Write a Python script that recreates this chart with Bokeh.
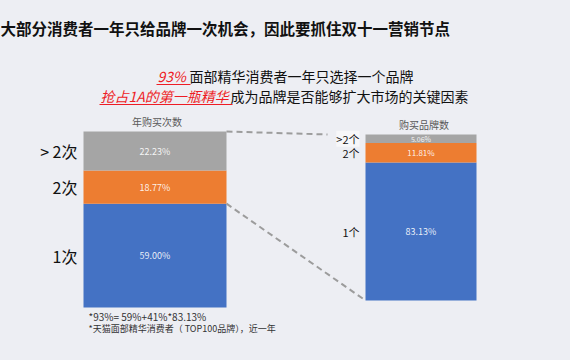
from bokeh.plotting import figure
from bokeh.models import Range1d, Label, GlobalInlineStyleSheet, ColumnDataSource
from bokeh.core.properties import value
from bokeh.embed import file_html
from bokeh.resources import INLINE

# ---------------- data ----------------
left_title = "年购买次数"
left_cats = ["1次", "2次", "> 2次"]
left_vals = [59.00, 18.77, 22.23]

right_title = "购买品牌数"
right_cats = ["1个", "2个", ">2个"]
right_vals = [83.13, 11.81, 5.06]

seg_colors = ["#4472c4", "#ed7d31", "#a5a5a5"]

title_text = "大部分消费者一年只给品牌一次机会，因此要抓住双十一营销节点"
sub1_red = "93%"
sub1_black = "面部精华消费者一年只选择一个品牌"
sub2_red = "抢占1A的第一瓶精华"
sub2_black = "成为品牌是否能够扩大市场的关键因素"
note1 = "*93%= 59%+41%*83.13%"
note2 = "*天猫面部精华消费者（ TOP100品牌），近一年"

# ---------------- layout (pixels of the page) ----------------
W, H = 570, 360
BG = "#edeef3"
FONT = "Noto Sans CJK SC"

L_X0, L_X1, L_BASE, L_TOP = 83, 226, 307, 131
R_X0, R_X1, R_BASE, R_TOP = 365, 476, 300, 134


def make_range(base, top):
    ppu = (base - top) / 100.0
    return Range1d(start=(base - H) / ppu, end=base / ppu)


def to_px(v, base, top):
    return base - v * (base - top) / 100.0


p = figure(width=W, height=H, output_backend="svg", toolbar_location=None,
           x_range=Range1d(0, W), y_range=Range1d(H, 0),
           x_axis_location=None, y_axis_location=None,
           min_border=0, outline_line_color=None,
           background_fill_color=BG, border_fill_color=BG)
p.xgrid.visible = False
p.ygrid.visible = False
p.stylesheets = [GlobalInlineStyleSheet(
    css="html,body{margin:0;padding:0;overflow:hidden;background:%s;}" % BG)]

p.extra_y_ranges = {"left": make_range(L_BASE, L_TOP),
                    "right": make_range(R_BASE, R_TOP)}


def stack(vals):
    bottoms, tops, acc = [], [], 0.0
    for v in vals:
        bottoms.append(acc)
        acc += v
        tops.append(acc)
    return bottoms, tops


# ---------- left bar ----------
lb, lt = stack(left_vals)
lsrc = ColumnDataSource(dict(
    x=[(L_X0 + L_X1) / 2] * 3, bottom=lb, top=lt, color=seg_colors,
    mid=[(a + b) / 2 for a, b in zip(lb, lt)],
    lab=["%.2f%%" % v for v in left_vals], cat=left_cats))
p.vbar(x="x", bottom="bottom", top="top", width=L_X1 - L_X0, color="color",
       source=lsrc, y_range_name="left", line_color=None)
p.text(x="x", y="mid", text="lab", source=lsrc, y_range_name="left",
       text_color="white", text_font_size="9px", text_font=value(FONT),
       text_align="center", text_baseline="middle", text_alpha=0.9)
p.text(x=77, y="mid", text="cat", source=lsrc, y_range_name="left",
       text_color="#111111", text_font_size="16px", text_font=value(FONT),
       text_align="right", text_baseline="middle")

# ---------- right bar ----------
rb, rt = stack(right_vals)
rsrc = ColumnDataSource(dict(
    x=[(R_X0 + R_X1) / 2] * 3, bottom=rb, top=rt, color=seg_colors,
    mid=[(a + b) / 2 for a, b in zip(rb, rt)],
    lab=["%.2f%%" % v for v in right_vals], cat=right_cats,
    fs=["9px", "8px", "7px"]))
p.vbar(x="x", bottom="bottom", top="top", width=R_X1 - R_X0, color="color",
       source=rsrc, y_range_name="right", line_color=None)
p.text(x="x", y="mid", text="lab", source=rsrc, y_range_name="right",
       text_color="white", text_font_size="fs", text_font=value(FONT),
       text_align="center", text_baseline="middle", text_alpha=0.9)

# right category labels (top one has a light box)
for i, (cat, m) in enumerate(zip(right_cats, rsrc.data["mid"])):
    p.add_layout(Label(x=359, y=m, y_range_name="right", text=cat,
                       text_font=FONT, text_font_size="11px",
                       text_color="#111111", text_align="right",
                       text_baseline="middle",
                       background_fill_color="#f7f7f9" if i == 2 else None,
                       background_fill_alpha=0.9))

# ---------- connector dashed lines ----------
y1a = to_px(lt[-1], L_BASE, L_TOP)
y1b = to_px(rt[-1], R_BASE, R_TOP)
y2a = to_px(lt[0], L_BASE, L_TOP)
y2b = to_px(rb[0], R_BASE, R_TOP)
p.segment(x0=[L_X1, L_X1], y0=[y1a, y2a], x1=[327, R_X0], y1=[y1b, y2b],
          line_color="#9c9c9c", line_width=2, line_dash="6 4")

# ---------- bar titles ----------
p.text(x=[(L_X0 + L_X1) / 2 + 2, (R_X0 + R_X1) / 2 + 3], y=[121, 124],
       text=[left_title, right_title], text_color="#595959",
       text_font_size="10px", text_font=value(FONT),
       text_align="center", text_baseline="middle")

# ---------- headline ----------
p.text(x=[0], y=[27], text=[title_text], text_color="#111111",
       text_font_size="15.5px", text_font_style="bold", text_font=value(FONT),
       text_align="left", text_baseline="middle")

# ---------- subtitle ----------
RED = "#ee1c25"
p.text(x=[157], y=[75], text=[sub1_red], text_color=RED,
       text_font_size="14px", text_font_style="italic", text_font=value(FONT),
       text_align="left", text_baseline="middle")
p.text(x=[189], y=[75], text=[sub1_black], text_color="#111111",
       text_font_size="14px", text_font=value(FONT),
       text_align="left", text_baseline="middle")
p.text(x=[100], y=[95], text=[sub2_red], text_color=RED,
       text_font_size="14px", text_font_style="italic", text_font=value(FONT),
       text_align="left", text_baseline="middle")
p.text(x=[230], y=[95], text=[sub2_black], text_color="#111111",
       text_font_size="14px", text_font=value(FONT),
       text_align="left", text_baseline="middle")
p.segment(x0=[156, 99], y0=[84, 104], x1=[190, 232], y1=[84, 104],
          line_color=RED, line_width=1)

# ---------- footnotes ----------
p.text(x=[88], y=[316], text=[note1], text_color="#333333",
       text_font_size="10px", text_font=value(FONT),
       text_align="left", text_baseline="middle")
p.text(x=[88], y=[328], text=[note2], text_color="#333333",
       text_font_size="9px", text_font=value(FONT),
       text_align="left", text_baseline="middle")

open("out.html", "w").write(file_html(p, INLINE))
